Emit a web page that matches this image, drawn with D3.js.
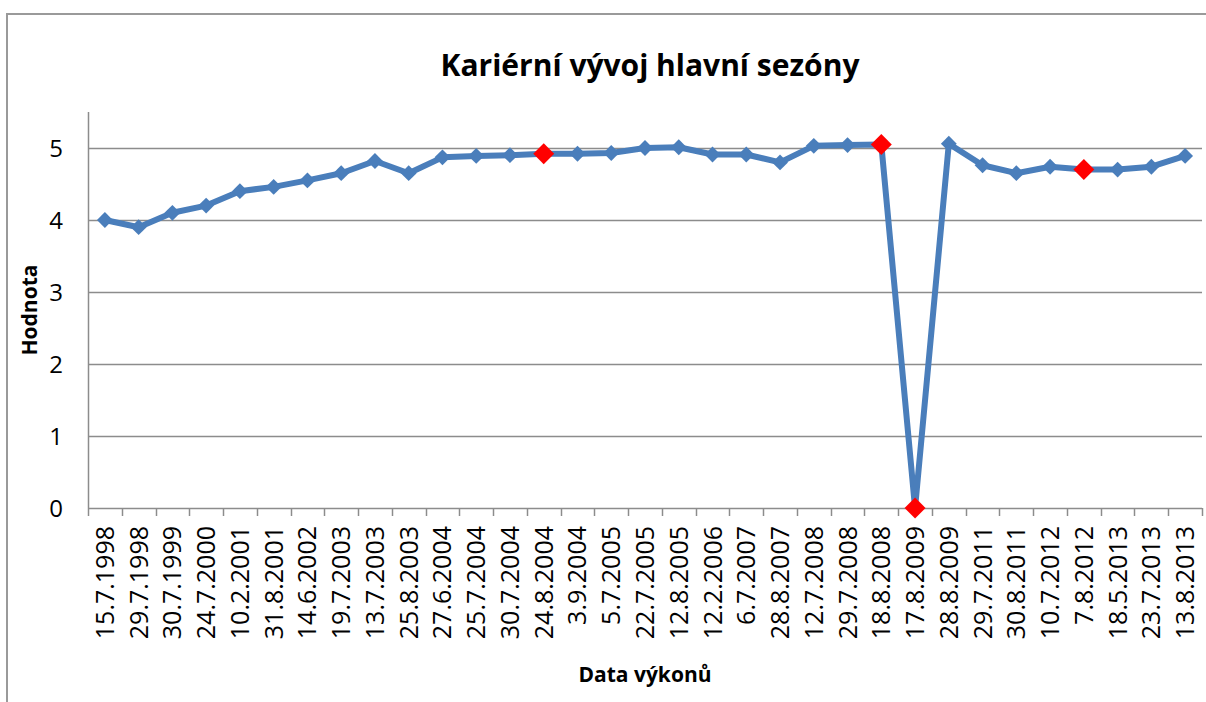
<!DOCTYPE html>
<html>
<head>
<meta charset="utf-8">
<script src="https://cdn.jsdelivr.net/npm/d3@7"></script>
<style>
  body { margin: 0; background: #fff; }
  svg text { font-family: "Open Sans", sans-serif; fill: #000; }
</style>
</head>
<body>
<div id="chart"></div>
<script>
// Data
var dates = ["15.7.1998", "29.7.1998", "30.7.1999", "24.7.2000", "10.2.2001", "31.8.2001",
    "14.6.2002", "19.7.2003", "13.7.2003", "25.8.2003", "27.6.2004", "25.7.2004",
    "30.7.2004", "24.8.2004", "3.9.2004", "5.7.2005", "22.7.2005", "12.8.2005",
    "12.2.2006", "6.7.2007", "28.8.2007", "12.7.2008", "29.7.2008", "18.8.2008",
    "17.8.2009", "28.8.2009", "29.7.2011", "30.8.2011", "10.7.2012", "7.8.2012",
    "18.5.2013", "23.7.2013", "13.8.2013"];
var values = [4.0, 3.9, 4.1, 4.2, 4.4, 4.46, 4.55, 4.65, 4.82, 4.65, 4.87, 4.89,
    4.9, 4.92, 4.92, 4.93, 5.0, 5.01, 4.91, 4.91, 4.8, 5.03, 5.04, 5.05,
    0, 5.06, 4.76, 4.65, 4.74, 4.7, 4.7, 4.74, 4.89];
var highlighted = ["24.8.2004", "18.8.2008", "17.8.2009", "7.8.2012"];
var yTicks = [0, 1, 2, 3, 4, 5];

var width = 1206, height = 702;
var margin = {top: 112, right: 4, bottom: 194, left: 88};

var svg = d3.select("#chart").append("svg")
    .attr("width", width)
    .attr("height", height);

// chart border
svg.append("path")
    .attr("d", "M 7 " + height + " L 7 14 L " + width + " 14")
    .attr("fill", "none")
    .attr("stroke", "#9a9a9a")
    .attr("stroke-width", 2);

var x = d3.scaleBand()
    .domain(dates)
    .range([margin.left, width - margin.right]);

var y = d3.scaleLinear()
    .domain([0, 5.5])
    .range([height - margin.bottom, margin.top]);

// gridlines
svg.append("g")
    .selectAll("line")
    .data(yTicks)
    .enter().append("line")
    .attr("x1", margin.left)
    .attr("x2", width - margin.right)
    .attr("y1", function(d) { return Math.round(y(d)) + 0.5; })
    .attr("y2", function(d) { return Math.round(y(d)) + 0.5; })
    .attr("stroke", "#8c8c8c")
    .attr("stroke-width", 1.5);

// y axis line
svg.append("line")
    .attr("x1", margin.left + 0.5)
    .attr("x2", margin.left + 0.5)
    .attr("y1", y(5.5))
    .attr("y2", y(0))
    .attr("stroke", "#8c8c8c")
    .attr("stroke-width", 1.5);

// y tick labels
svg.append("g")
    .selectAll("text")
    .data(yTicks)
    .enter().append("text")
    .attr("x", margin.left - 32)
    .attr("y", function(d) { return y(d) + 8.5; })
    .attr("text-anchor", "middle")
    .style("font-size", "24px")
    .text(function(d) { return d; });

// x axis ticks (category boundaries)
var boundaries = dates.map(function(d) { return x(d); }).concat([x.range()[1]]);
svg.append("g")
    .selectAll("line")
    .data(boundaries)
    .enter().append("line")
    .attr("x1", function(d) { return Math.round(d) + 0.5; })
    .attr("x2", function(d) { return Math.round(d) + 0.5; })
    .attr("y1", y(0))
    .attr("y2", y(0) + 8)
    .attr("stroke", "#8c8c8c")
    .attr("stroke-width", 1.5);

// x tick labels (rotated)
svg.append("g")
    .selectAll("text")
    .data(dates)
    .enter().append("text")
    .attr("transform", function(d) {
        return "translate(" + (x(d) + x.bandwidth() / 2 + 9) + "," + (y(0) + 18) + ") rotate(-90)";
    })
    .attr("text-anchor", "end")
    .style("font-size", "25px")
    .text(function(d) { return d; });

// line
var line = d3.line()
    .x(function(d, i) { return x(dates[i]) + x.bandwidth() / 2; })
    .y(function(d) { return y(d); });

svg.append("path")
    .datum(values)
    .attr("d", line)
    .attr("fill", "none")
    .attr("stroke", "#4a7ebb")
    .attr("stroke-width", 6)
    .attr("stroke-linejoin", "round");

// markers
var diamond = d3.symbol().type(d3.symbolDiamond2);
svg.append("g")
    .selectAll("path")
    .data(values)
    .enter().append("path")
    .attr("transform", function(d, i) {
        return "translate(" + (x(dates[i]) + x.bandwidth() / 2) + "," + y(d) + ")";
    })
    .attr("d", function(d, i) {
        return highlighted.indexOf(dates[i]) >= 0 ? diamond.size(280)() : diamond.size(160)();
    })
    .attr("fill", function(d, i) { return highlighted.indexOf(dates[i]) >= 0 ? "#ff0000" : "#4a7ebb"; });

// titles
svg.append("text")
    .attr("x", 650)
    .attr("y", 76)
    .attr("text-anchor", "middle")
    .style("font-size", "30px")
    .style("font-weight", "bold")
    .text("Kariérní vývoj hlavní sezóny");

svg.append("text")
    .attr("transform", "translate(37," + 310 + ") rotate(-90)")
    .attr("text-anchor", "middle")
    .style("font-size", "21px")
    .style("font-weight", "bold")
    .text("Hodnota");

svg.append("text")
    .attr("x", 645)
    .attr("y", 682)
    .attr("text-anchor", "middle")
    .style("font-size", "21px")
    .style("font-weight", "bold")
    .text("Data výkonů");
</script>
</body>
</html>
